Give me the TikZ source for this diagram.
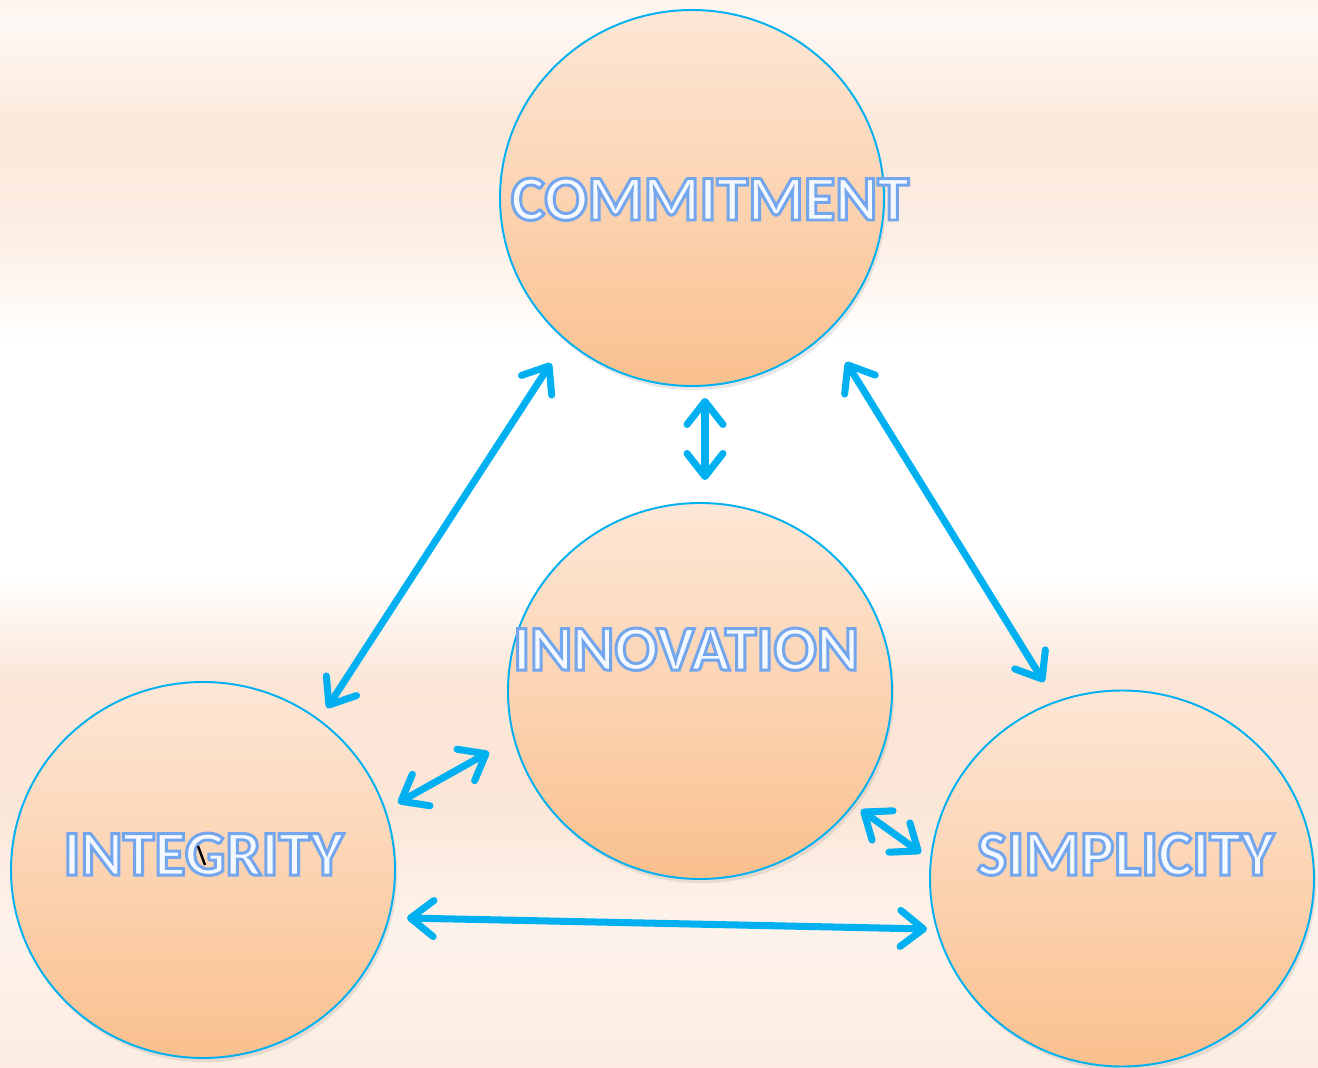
\documentclass[tikz,border=0pt]{standalone}
\usepackage{fontspec}
\setmainfont{Carlito}
\usepackage{xcolor}
\usepackage{tikz}
\usetikzlibrary{calc}
\usetikzlibrary{arrows.meta}
\usetikzlibrary{shapes.geometric}
\usetikzlibrary{shadows}

\definecolor{skyline}{RGB}{0,176,240}
\definecolor{peachbg}{RGB}{251,228,212}
\definecolor{ballTop}{RGB}{253,231,214}
\definecolor{ballBot}{RGB}{250,192,142}
\definecolor{wordfill}{RGB}{242,247,255}

% outlined letters: fill light, stroke blue (pdf text render mode 2)
\newcommand{\outlined}[1]{{\color{wordfill}%
  \special{pdf:literal direct 2 Tr 0.85 w 0.45 0.65 0.93 RG 0.955 0.972 1 rg}#1%
  \special{pdf:literal direct 0 Tr 0.4 w}}}

% horizontal bands of the background, bottom (0bp) to top (100bp)
\pgfdeclareverticalshading{bands}{100bp}{%
  color(0bp)=(white); color(3.6bp)=(white);
  color(8.2bp)=(peachbg!50!white); color(15.7bp)=(peachbg!55!white);
  color(25bp)=(peachbg!70!white); color(31.6bp)=(peachbg!45!white);
  color(37.3bp)=(peachbg!90!white); color(43bp)=(peachbg!95!white);
  color(48bp)=(white); color(58.8bp)=(white);
  color(64.4bp)=(peachbg!65!white); color(69bp)=(peachbg!85!white);
  color(74bp)=(peachbg!25!white); color(78bp)=(peachbg!80!white);
  color(82bp)=(peachbg!30!white); color(86bp)=(peachbg!20!white);
  color(90.6bp)=(peachbg); color(94.4bp)=(peachbg!45!white);
  color(97bp)=(white); color(100bp)=(white)}

\tikzstyle{ball} = [ellipse, draw=skyline, line width=0.55pt, minimum width=3.84cm,
  minimum height=3.76cm, top color=ballTop, bottom color=ballBot,
  drop shadow={opacity=0.18, shadow xshift=0.6pt, shadow yshift=-1.2pt}]
\tikzstyle{word} = [draw=none, inner sep=0, anchor=base,
  font=\bfseries\fontsize{18.2}{20}\selectfont]
\tikzstyle{link} = [{Straight Barb[round, length=2.3mm, width=3.6mm]}-{Straight Barb[round, length=2.3mm, width=3.6mm]},
  line width=2pt, skyline, line cap=round]

\begin{document}
\begin{tikzpicture}
\useasboundingbox (0,0) rectangle (13.18,-10.68);
\shade [shading=bands] (0,0) rectangle (13.18,-10.68);

\node [ball] (C) at (6.92, -1.98) {};
\node [ball] (N) at (7.00, -6.91) {};
\node [ball] (I) at (2.03, -8.70) {};
\node [ball] (S) at (11.22, -8.785) {};

\node [word] (Ct) at (7.10, -2.20) {\outlined{COMMITMENT}};
\node [word] (Nt) at (6.86, -6.70) {\outlined{INNOVATION}};
\node [word] (It) at (2.035, -8.75) {\outlined{INTEGRITY}};
\node [word] (St) at (11.255, -8.75) {\outlined{SIMPLICITY}};
\draw [black, line width=0.7pt] (1.98,-8.46) -- (2.05,-8.65);

% arrow ends
\coordinate (ci1) at (5.51, -3.63);
\coordinate (ci2) at (3.27, -7.08);
\coordinate (cs1) at (8.46, -3.62);
\coordinate (cs2) at (10.44, -6.82);
\coordinate (cn1) at (7.05, -3.98);
\coordinate (cn2) at (7.05, -4.80);
\coordinate (in1) at (3.98, -8.03);
\coordinate (in2) at (4.89, -7.52);
\coordinate (ns1) at (8.61, -8.10);
\coordinate (ns2) at (9.21, -8.53);
\coordinate (is1) at (4.07, -9.18);
\coordinate (is2) at (9.27, -9.29);

\draw [link] (ci1) to (ci2);
\draw [link] (cs1) to (cs2);
\draw [link] (cn1) to (cn2);
\draw [link] (in1) to (in2);
\draw [link] (ns1) to (ns2);
\draw [link] (is1) to (is2);
\end{tikzpicture}
\end{document}
